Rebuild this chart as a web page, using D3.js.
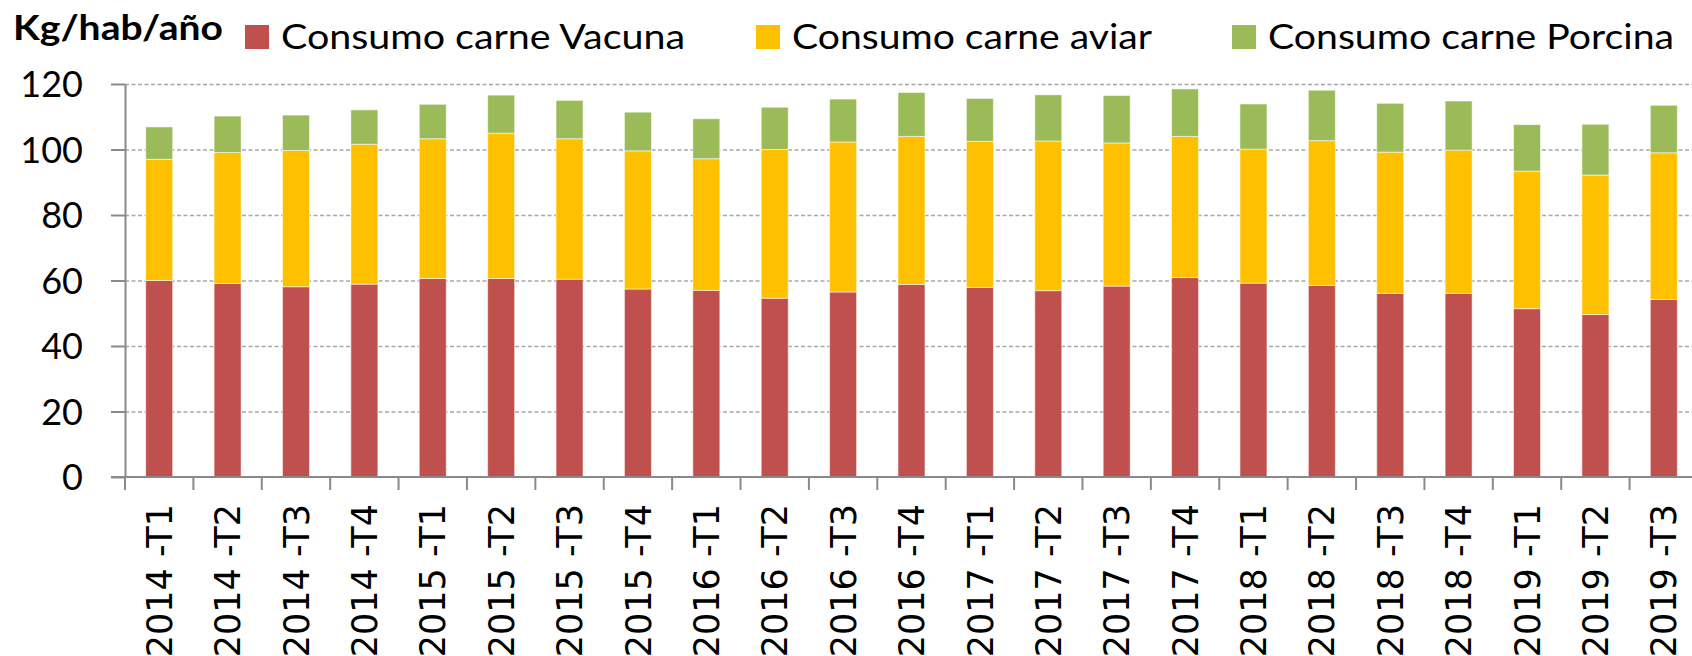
<!DOCTYPE html>
<html>
<head>
<meta charset="utf-8">
<script src="https://cdn.jsdelivr.net/npm/d3@7"></script>
<style>
  html, body { margin: 0; padding: 0; background: #fff; overflow: hidden; }
  svg { display: block; }
</style>
</head>
<body>
<div id="chart"></div>
<script>
// Consumo de carne por trimestre (kg/hab/año)
var categorias = ["2014 -T1", "2014 -T2", "2014 -T3", "2014 -T4",
  "2015 -T1", "2015 -T2", "2015 -T3", "2015 -T4",
  "2016 -T1", "2016 -T2", "2016 -T3", "2016 -T4",
  "2017 -T1", "2017 -T2", "2017 -T3", "2017 -T4",
  "2018 -T1", "2018 -T2", "2018 -T3", "2018 -T4",
  "2019 -T1", "2019 -T2", "2019 -T3"];

var vacuna  = [60.0, 59.1, 58.1, 58.9, 60.6, 60.6, 60.4, 57.4, 57.0, 54.6, 56.5, 58.8,
               57.9, 56.9, 58.3, 60.9, 59.2, 58.5, 56.1, 56.1, 51.4, 49.6, 54.2];
var aviar   = [37.0, 40.0, 41.6, 42.7, 42.7, 44.4, 42.9, 42.2, 40.2, 45.4, 45.8, 45.2,
               44.6, 45.7, 43.7, 43.1, 40.9, 44.2, 43.1, 43.7, 42.0, 42.6, 44.8];
var porcina = [9.9, 11.1, 10.8, 10.5, 10.5, 11.6, 11.7, 11.8, 12.2, 12.9, 13.1, 13.4,
               13.1, 14.1, 14.5, 14.5, 13.8, 15.4, 14.9, 15.0, 14.2, 15.5, 14.5];

var series = ["Consumo carne Vacuna", "Consumo carne aviar", "Consumo carne Porcina"];
var colores = ["#C0504D", "#FFC000", "#9BBB59"];
var yTicks = [0, 20, 40, 60, 80, 100, 120];
var titulo = "Kg/hab/año";

var svgWidth = 1692;
var svgHeight = 656;

var margin = { top: 84, left: 125, bottom: 179 };
var plotRight = 1698;   // the last band is cut by the picture's edge
var height = svgHeight - margin.top - margin.bottom;

var svg = d3.select("#chart")
  .append("svg")
  .attr("width", svgWidth)
  .attr("height", svgHeight);

// build rows for the stack
var tabla = categorias.map(function(c, i) {
  var row = { cat: c };
  row[series[0]] = vacuna[i];
  row[series[1]] = aviar[i];
  row[series[2]] = porcina[i];
  return row;
});
var apilado = d3.stack().keys(series)(tabla);

var x = d3.scaleBand()
  .domain(categorias)
  .range([margin.left, plotRight]);

var y = d3.scaleLinear()
  .domain([0, 120])
  .range([margin.top + height, margin.top]);

var barW = x.bandwidth() * 0.395;

// Gridlines (dashed)
svg.append("g")
  .attr("transform", `translate(${margin.left}, 0)`)
  .call(d3.axisLeft(y).tickValues(yTicks.slice(1)).tickSize(-(plotRight - margin.left)).tickFormat(""))
  .call(g => g.select(".domain").remove())
  .selectAll("line")
  .attr("stroke", "#a8a8a8")
  .attr("stroke-width", 1.4)
  .attr("stroke-dasharray", "4,2.5");

// Bars
svg.append("g")
  .selectAll("g")
  .data(apilado)
  .enter()
  .append("g")
  .attr("fill", (d, i) => colores[i])
  .selectAll("rect")
  .data(d => d)
  .enter()
  .append("rect")
  .attr("x", d => x(d.data.cat) + x.bandwidth() / 2 - barW / 2)
  .attr("y", d => y(d[1]))
  .attr("width", barW)
  .attr("height", d => y(d[0]) - y(d[1]))
  .attr("stroke", "#ffffff")
  .attr("stroke-opacity", 0.55)
  .attr("stroke-width", 1);

// Y axis
var yAxis = svg.append("g")
  .attr("transform", `translate(${margin.left}, 0)`)
  .call(d3.axisLeft(y).tickValues(yTicks).tickSize(14).tickPadding(28).tickSizeOuter(0));
yAxis.select(".domain").attr("stroke", "#8a8a8a").attr("stroke-width", 2);
yAxis.selectAll(".tick line").attr("stroke", "#8a8a8a").attr("stroke-width", 2);
yAxis.selectAll(".tick text")
  .attr("font-family", "Lato, 'Open Sans', sans-serif")
  .attr("font-size", 36)
  .attr("fill", "#000")
  .attr("dy", "0.36em");

// X axis
var xAxis = svg.append("g")
  .attr("transform", `translate(0, ${margin.top + height})`)
  .call(d3.axisBottom(x).tickSize(0).tickPadding(0));
xAxis.select(".domain")
  .attr("d", `M${margin.left - 14},0H${plotRight}`)
  .attr("stroke", "#8a8a8a")
  .attr("stroke-width", 2);
xAxis.selectAll(".tick text")
  .attr("font-family", "'DejaVu Sans', Verdana, sans-serif")
  .attr("font-size", 35)
  .attr("fill", "#000")
  .attr("text-anchor", "end")
  .attr("x", 0)
  .attr("y", 0)
  .attr("dy", "0.36em")
  .attr("transform", "translate(0, 27) rotate(-90)");

// tick marks between the categories
xAxis.append("g")
  .selectAll("line")
  .data(categorias)
  .enter()
  .append("line")
  .attr("x1", d => x(d))
  .attr("x2", d => x(d))
  .attr("y1", 0)
  .attr("y2", 13)
  .attr("stroke", "#8a8a8a")
  .attr("stroke-width", 2);

// Title
svg.append("text")
  .attr("x", 13)
  .attr("y", 40)
  .attr("font-family", "Lato, 'Open Sans', sans-serif")
  .attr("font-weight", "bold")
  .attr("font-size", 34)
  .attr("textLength", 210)
  .attr("lengthAdjust", "spacingAndGlyphs")
  .text(titulo);

// Legend
var legendX = [245, 756, 1232];
var legendW = [404, 360, 406];
var legend = svg.append("g")
  .selectAll("g")
  .data(series)
  .enter()
  .append("g")
  .attr("transform", (d, i) => `translate(${legendX[i]}, 0)`);

legend.append("rect")
  .attr("x", 0)
  .attr("y", 25)
  .attr("width", 24)
  .attr("height", 24)
  .attr("fill", (d, i) => colores[i]);

legend.append("text")
  .attr("x", 36)
  .attr("y", 49)
  .attr("font-family", "Lato, 'Open Sans', sans-serif")
  .attr("font-size", 35)
  .attr("fill", "#000")
  .attr("textLength", (d, i) => legendW[i])
  .attr("lengthAdjust", "spacingAndGlyphs")
  .text(d => d);
</script>
</body>
</html>
